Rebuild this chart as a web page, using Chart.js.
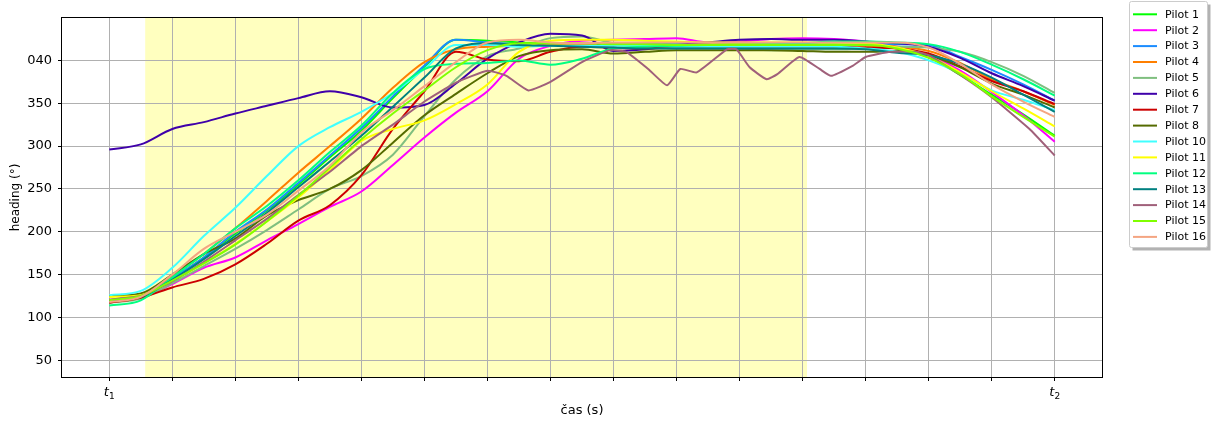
<!DOCTYPE html>
<html>
<head>
<meta charset="utf-8">
<script src="https://cdn.jsdelivr.net/npm/chart.js@4.4.0/dist/chart.umd.min.js"></script>
<style>
  html, body { margin: 0; padding: 0; background: #fff; }
  #wrap { width: 1212px; height: 421px; position: relative; }
</style>
</head>
<body>
<div id="wrap"><canvas id="graf"></canvas></div>
<script>
// casova osa (t1 = 0, t2 = 15)
const xs = [0,0.5,1,1.5,2,2.5,3,3.5,4,4.5,5,5.5,6,6.5,7,7.5,8,8.5,9,9.5,10,10.5,11,11.5,12,12.5,13,13.5,14,14.5,15];
const xs14 = [0,0.5,1,1.5,2,2.5,3,3.5,4,4.5,5,5.5,6,6.3,6.65,7,7.5,7.95,8.2,8.55,8.85,9.06,9.32,9.8,9.95,10.16,10.43,10.6,10.95,11.27,11.45,11.8,12,12.4,12.8,13,13.5,14,14.6,15];
const xTicks = [0,1,2,3,4,5,6,7,8,9,10,11,12,13,14,15];
const xPopisky = { 0: ['t', '1'], 15: ['t', '2'] };
const yTicks = [50,100,150,200,250,300,350,400];
const oblast = [0.57, 11.07]; // zvyraznena cast

const pilot1  = [119,124,145,170,198,225,255,287,318,356,392,424,423,421,420,419,420,420,419,419,420,420,419,419,418,414,404,383,360,337,312];
const pilot2  = [120,123,139,158,170,190,209,229,247,278,310,339,364,402,417,423,424,425,426,421,422,425,426,425,422,416,406,388,363,336,305];
const pilot3  = [118,125,146,170,200,226,257,289,321,358,394,424,421,419,418,418,418,418,419,418,417,418,418,418,418,419,418,404,389,372,353];
const pilot4  = [120,126,148,174,204,236,269,300,332,368,398,413,416,417,418,418,418,418,418,418,418,418,418,418,417,416,411,397,378,364,348];
const pilot5  = [117,122,140,160,180,202,226,250,265,290,335,378,405,414,426,428,420,418,416,415,414,412,413,413,414,416,415,410,398,382,362];
const pilot6  = [296,302,320,328,338,347,356,364,357,345,348,373,402,421,431,429,411,413,418,421,424,425,424,424,422,420,416,403,385,370,353];
const pilot7  = [117,123,135,145,162,186,213,231,266,320,364,410,401,399,410,416,415,414,415,416,416,416,416,416,415,414,408,393,376,364,349];
const pilot8  = [125,128,150,174,192,219,237,250,272,304,336,361,385,405,412,413,408,410,412,412,412,412,411,410,410,411,406,392,373,360,345];
const pilot10 = [126,131,158,195,228,265,300,322,340,362,390,418,418,416,417,417,417,417,416,416,416,416,416,416,414,410,400,385,365,354,342];
const pilot11 = [124,126,143,163,186,212,240,272,306,320,330,349,372,410,423,424,424,423,422,421,421,421,421,421,420,415,405,386,364,344,323];
const pilot12 = [114,120,147,174,204,230,260,293,324,362,390,396,397,400,395,402,414,416,417,418,418,419,420,422,422,421,419,410,395,378,359];
const pilot13 = [119,124,144,168,195,222,252,282,312,346,380,414,420,418,417,416,415,414,414,414,414,414,414,414,413,409,406,396,380,360,340];
const pilot14 = [121,125,142,165,190,215,243,270,300,325,352,374,388,382,365,375,398,412,410,390,371,390,386,413,413,392,378,384,404,390,382,394,404,410,410,406,383,357,320,289];
const pilot15 = [120,125,143,163,185,212,242,275,308,338,365,392,412,420,420,420,419,419,418,418,418,418,418,418,418,414,403,384,358,334,311];
const pilot16 = [118,124,150,180,200,220,248,277,316,342,370,398,421,424,421,420,421,421,421,421,421,421,421,421,421,421,415,396,372,352,334];

const piloti = [
  ['Pilot 1', pilot1, '#00ff00'],
  ['Pilot 2', pilot2, '#ff00ff'],
  ['Pilot 3', pilot3, '#1a8cff'],
  ['Pilot 4', pilot4, '#ff7f00'],
  ['Pilot 5', pilot5, '#7fbf7f'],
  ['Pilot 6', pilot6, '#3f00aa'],
  ['Pilot 7', pilot7, '#cc0000'],
  ['Pilot 8', pilot8, '#556b00'],
  ['Pilot 10', pilot10, '#40ffff'],
  ['Pilot 11', pilot11, '#ffff00'],
  ['Pilot 12', pilot12, '#00ff80'],
  ['Pilot 13', pilot13, '#008080'],
  ['Pilot 14', pilot14, '#a0607a'],
  ['Pilot 15', pilot15, '#80ff00'],
  ['Pilot 16', pilot16, '#f4a582']
];

const datasets = piloti.map(([jmeno, hodnoty, barva], i) => {
  const osa = jmeno === 'Pilot 14' ? xs14 : xs;
  return {
    label: jmeno,
    data: hodnoty.map((v, j) => ({ x: osa[j], y: v })),
    borderColor: barva,
    backgroundColor: barva,
    borderWidth: 2,
    pointRadius: 0,
    fill: false,
    cubicInterpolationMode: jmeno === 'Pilot 14' ? 'default' : 'monotone',
    tension: jmeno === 'Pilot 14' ? 0.15 : 0,
    order: 100 - i
  };
});

// zluty pas + ramecek + popisky t1/t2 + legenda vpravo
const kresleni = {
  id: 'kresleni',
  beforeDraw(chart) {
    const { ctx, chartArea: a, scales: { x } } = chart;
    ctx.save();
    ctx.fillStyle = '#ffffbf';
    const x1 = x.getPixelForValue(oblast[0]);
    const x2 = x.getPixelForValue(oblast[1]);
    ctx.fillRect(x1, a.top, x2 - x1, a.bottom - a.top);
    ctx.restore();
  },
  afterDraw(chart) {
    const { ctx, chartArea: a, scales: { x } } = chart;
    ctx.save();
    ctx.strokeStyle = '#000';
    ctx.lineWidth = 1;
    ctx.strokeRect(Math.round(a.left) - 0.5, Math.round(a.top) - 0.5, Math.round(a.right - a.left) + 1, Math.round(a.bottom - a.top) + 1);

    // t1, t2 jako matematicky text
    ctx.fillStyle = '#000';
    ctx.textBaseline = 'alphabetic';
    Object.keys(xPopisky).forEach(k => {
      const [zaklad, index] = xPopisky[k];
      const px = x.getPixelForValue(Number(k));
      ctx.font = 'italic 13px "DejaVu Sans"';
      const w1 = ctx.measureText(zaklad).width;
      ctx.font = '9px "DejaVu Sans"';
      const w2 = ctx.measureText(index).width;
      const start = px - (w1 + w2) / 2;
      ctx.font = 'italic 13px "DejaVu Sans"';
      ctx.fillText(zaklad, start, 396);
      ctx.font = '9px "DejaVu Sans"';
      ctx.fillText(index, start + w1, 399);
    });

    // legenda
    const lx = 1129.5, ly = 1.5, lw = 78, lh = 246;
    ctx.fillStyle = 'rgba(0,0,0,0.3)';
    ctx.fillRect(lx + 3, ly + 3, lw, lh);
    ctx.fillStyle = '#fff';
    ctx.strokeStyle = '#cccccc';
    ctx.beginPath();
    ctx.roundRect(lx, ly, lw, lh, 2);
    ctx.fill();
    ctx.stroke();
    ctx.font = '11px "DejaVu Sans"';
    ctx.textBaseline = 'middle';
    chart.data.datasets.forEach((ds, i) => {
      const y = 14.3 + i * 15.9;
      ctx.strokeStyle = ds.borderColor;
      ctx.lineWidth = 2;
      ctx.beginPath();
      ctx.moveTo(1133, y);
      ctx.lineTo(1157, y);
      ctx.stroke();
      ctx.fillStyle = '#000';
      ctx.fillText(ds.label, 1165, y + 0.5);
    });
    ctx.restore();
  }
};

const ctx = document.getElementById('graf').getContext('2d');
const graf = new Chart(ctx, {
  type: 'line',
  data: { datasets: datasets },
  options: {
    responsive: true,
    maintainAspectRatio: false,
    animation: false,
    layout: { padding: { left: 0, right: 110, top: 18, bottom: 0 } },
    plugins: {
      legend: { display: false },
      tooltip: { enabled: false }
    },
    scales: {
      x: {
        type: 'linear',
        min: -0.75,
        max: 15.75,
        afterBuildTicks: s => { s.ticks = xTicks.map(v => ({ value: v })); },
        afterFit: s => { s.height = 44; },
        grid: { color: '#b0b0b0', lineWidth: 1, tickColor: '#000', tickLength: 4 },
        border: { display: false },
        ticks: {
          autoSkip: false,
          maxRotation: 0,
          padding: 3,
          color: '#000',
          font: { family: 'DejaVu Sans', size: 13 },
          callback: () => ''
        },
        title: {
          display: true,
          text: 'čas (s)',
          color: '#000',
          font: { family: 'DejaVu Sans', size: 13 },
          padding: { top: 0, bottom: 3 }
        }
      },
      y: {
        min: 30.5,
        max: 449.5,
        afterBuildTicks: s => { s.ticks = yTicks.map(v => ({ value: v })); },
        afterFit: s => { s.width = 62; },
        grid: { color: '#b0b0b0', lineWidth: 1, tickColor: '#000', tickLength: 4 },
        border: { display: false },
        ticks: {
          padding: 6,
          color: '#000',
          font: { family: 'DejaVu Sans', size: 13 },
          callback: v => v > 360 ? String(v - 360).padStart(3, '0') : String(v)
        },
        title: {
          display: true,
          text: 'heading (°)',
          color: '#000',
          font: { family: 'DejaVu Sans', size: 12 },
          padding: { top: 9, bottom: 0 }
        }
      }
    }
  },
  plugins: [kresleni]
});
</script>
</body>
</html>
